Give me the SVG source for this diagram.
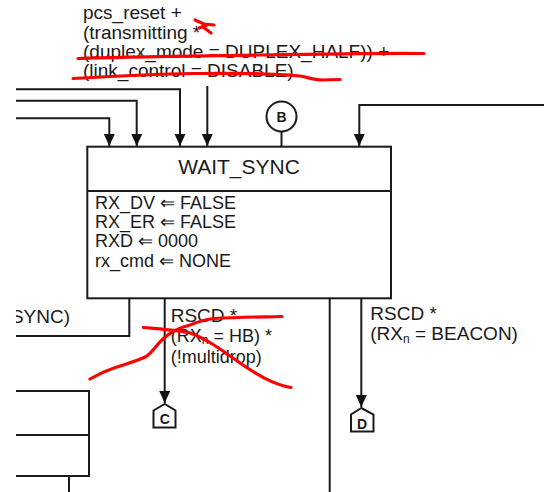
<svg xmlns="http://www.w3.org/2000/svg" width="544" height="492" viewBox="0 0 544 492">
<defs>
<marker id="arr" markerUnits="userSpaceOnUse" markerWidth="12" markerHeight="12" viewBox="0 0 12 12" refX="12" refY="6" orient="auto"><path d="M0,0.5 L12,6 L0,11.5 z" fill="#111"/></marker>
<clipPath id="clipL"><rect x="16" y="0" width="528" height="492"/></clipPath>
</defs>
<style>
.ln{fill:none;stroke:#1a1a1a;stroke-width:2}
.box{fill:#fff;stroke:#1a1a1a;stroke-width:2}
.t{font-family:"Liberation Sans",Arial,sans-serif;font-size:19px;fill:#1a1a1a}
.b{font-size:18px}
.title{font-size:21px;text-anchor:middle}
.lbl{font-family:"Liberation Sans",Arial,sans-serif;font-weight:bold;font-size:14px;text-anchor:middle;fill:#1a1a1a}
.sub{font-size:12px}
.red{fill:none;stroke:#f00;stroke-width:3.2;stroke-linecap:round;stroke-linejoin:round}
</style>
<rect width="544" height="492" fill="#fff"/>

<g id="connectors">
<path class="ln" d="M16,89.3 H180 V146" marker-end="url(#arr)"/>
<path class="ln" d="M16,100.7 H136.7 V146" marker-end="url(#arr)"/>
<path class="ln" d="M16,118.3 H109.3 V146" marker-end="url(#arr)"/>
<path class="ln" d="M207.3,86 V146" marker-end="url(#arr)"/>
<path class="ln" d="M544,105 H359.3 V146" marker-end="url(#arr)"/>
<path class="ln" d="M281.5,131.5 V146.7"/>
<path class="ln" d="M164.7,298 V403" marker-end="url(#arr)"/>
<path class="ln" d="M361.3,298 V407" marker-end="url(#arr)"/>
<path class="ln" d="M129.3,298 V336 H16"/>
<path class="ln" d="M329.7,298 V492"/>
<path class="ln" d="M69,476 V492"/>
</g>

<g id="reset-condition">
<text class="t" x="83" y="19">pcs_reset +</text>
<text class="t" x="83" y="38.5">(transmitting *</text>
<text class="t" x="83" y="57.5">(duplex_mode = DUPLEX_HALF)) +</text>
<text class="t" x="83" y="76.5">(link_control = DISABLE)</text>
</g>

<g id="WAIT_SYNC">
<rect class="box" x="87.3" y="146.7" width="303.7" height="151.6"/>
<line class="ln" x1="87.3" y1="191" x2="391" y2="191"/>
<text class="t title" x="239" y="173.5">WAIT_SYNC</text>
<text class="t b" x="95" y="209">RX_DV ⇐ FALSE</text>
<text class="t b" x="95" y="227.5">RX_ER ⇐ FALSE</text>
<text class="t b" x="95" y="247.3">RXD ⇐ 0000</text>
<text class="t b" x="95" y="267.3">rx_cmd ⇐ NONE</text>
</g>

<g id="conn-B">
<circle cx="281.5" cy="116.5" r="15" fill="#fff" stroke="#1a1a1a" stroke-width="2"/>
<text class="lbl" x="281.5" y="121.5">B</text>
</g>

<g id="conn-C">
<path class="box" d="M164.7,404 L153.5,410.5 V427.5 H175.5 V410.5 Z" stroke-width="1.6"/>
<text class="lbl" x="164.7" y="424">C</text>
</g>

<g id="conn-D">
<path class="box" d="M361.3,408 L351,414.5 V431.5 H373.5 V414.5 Z" stroke-width="1.6"/>
<text class="lbl" x="362" y="428.5">D</text>
</g>

<g id="left-partial">
<text class="t" x="70" y="323.3" text-anchor="end" clip-path="url(#clipL)">SYNC)</text>
<path class="ln" d="M16,391 H89 V476 H16"/>
<path class="ln" d="M16,435 H89"/>
</g>

<g id="labels">
<text class="t" x="170.7" y="322">RSCD *</text>
<text class="t b" x="170.7" y="341.5">(RX<tspan class="sub" dy="2.5">n</tspan><tspan dy="-2.5"> = HB) *</tspan></text>
<text class="t b" x="170.7" y="362.5">(!multidrop)</text>
<text class="t" x="370.3" y="320">RSCD *</text>
<text class="t" x="370.3" y="340">(RX<tspan class="sub" dy="3">n</tspan><tspan dy="-3"> = BEACON)</tspan></text>
</g>

<g id="red-marks">
<path class="red" d="M195,20 L204,24 L214,25"/>
<path class="red" d="M199,28 L207,25"/>
<path class="red" d="M203,27 L211,33"/>
<path class="red" d="M78,58.5 C120,57 200,56 260,55 C320,54 380,53 424,53.5"/>
<path class="red" d="M73,78.5 C100,77 160,74 193,73.5 C230,73 270,73 300,76 C310,78 315,80 322,80 L340,79.5"/>
<path class="red" d="M143.3,327.5 C160,329 178,330 190,333 C205,338 222,350 240,363 C256,374 272,384 291,387.5"/>
<path class="red" d="M90,379 C100,373 108,370 114,368 C125,364 138,361 147,356 C154,350 158,343 164,338 C172,331 182,327 190,325 C200,321 207,319 214,318.5 C240,317 262,317 282,316.5"/>
</g>
</svg>
